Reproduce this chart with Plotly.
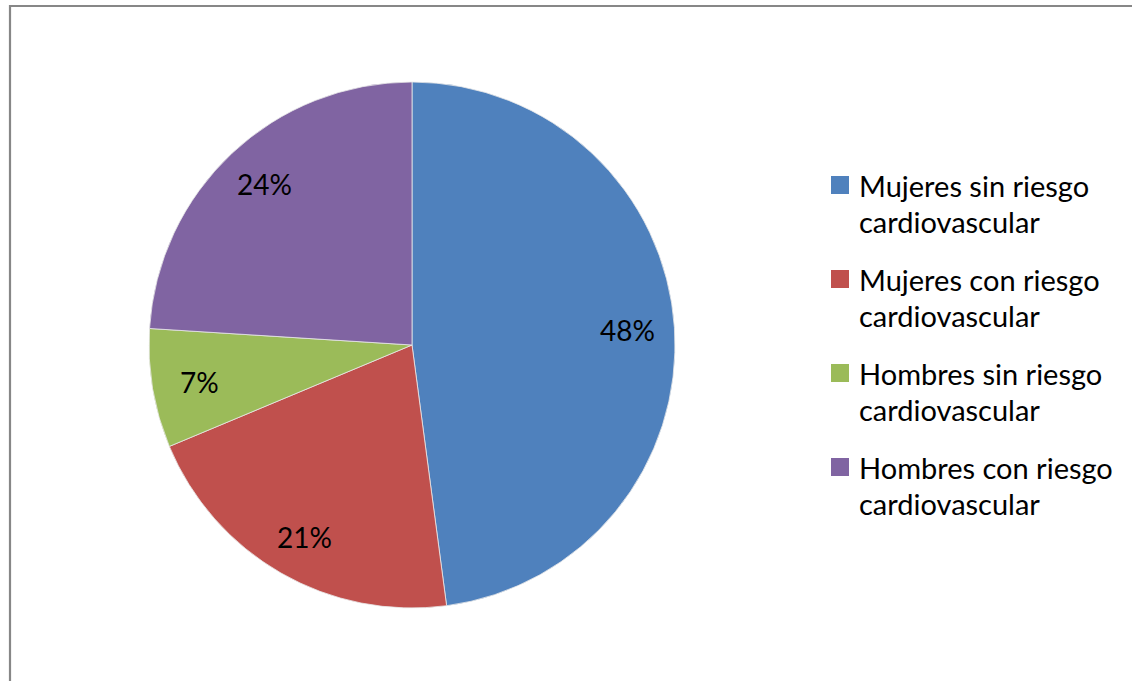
import math
import plotly.graph_objects as go

categories = [
    "Mujeres sin riesgo cardiovascular",
    "Mujeres con riesgo cardiovascular",
    "Hombres sin riesgo cardiovascular",
    "Hombres con riesgo cardiovascular",
]
legend_lines = [
    ["Mujeres sin riesgo", "cardiovascular"],
    ["Mujeres con riesgo", "cardiovascular"],
    ["Hombres sin riesgo", "cardiovascular"],
    ["Hombres con riesgo", "cardiovascular"],
]
values = [47.9, 20.8, 7.3, 24.0]
colors = ["#4F81BD", "#C0504D", "#9BBB59", "#8064A2"]

W, H = 1132, 681
FONT = "Lato"
cx, cy, r = 412, 345, 263  # pie centre/radius in pixels
dom_x = [(cx - r) / W, (cx + r) / W]
dom_y = [1 - (cy + r) / H, 1 - (cy - r) / H]


def px(x):
    return x / W


def py(y):
    return 1 - y / H


fig = go.Figure(
    go.Pie(
        labels=categories,
        values=values,
        sort=False,
        direction="clockwise",
        rotation=0,
        marker=dict(colors=colors, line=dict(color="#E8E8E8", width=0.8)),
        textinfo="none",
        hoverinfo="label+percent",
        domain=dict(x=dom_x, y=dom_y),
        showlegend=False,
    )
)

# percentage labels placed along each slice's bisector
total = sum(values)
cum = 0
annotations = []
for v in values:
    mid = (cum + v / 2) / total * 2 * math.pi
    cum += v
    lx = cx + 0.82 * r * math.sin(mid)
    ly = cy - 0.84 * r * math.cos(mid)
    annotations.append(
        dict(
            x=px(lx), y=py(ly), xref="paper", yref="paper",
            text=f"{round(v / total * 100)}%", showarrow=False,
            font=dict(family=FONT, size=28, color="black"),
            xanchor="center", yanchor="middle",
        )
    )

# legend (square swatch + two text lines per entry)
shapes = []
LEG_X, LEG_Y0, STEP, LINE = 831, 185, 94, 36
for i, (lines, col) in enumerate(zip(legend_lines, colors)):
    yc = LEG_Y0 + i * STEP
    shapes.append(
        dict(
            type="rect", xref="paper", yref="paper",
            x0=px(LEG_X), x1=px(LEG_X + 18), y0=py(yc + 9), y1=py(yc - 9),
            fillcolor=col, line=dict(width=0),
        )
    )
    for j, t in enumerate(lines):
        annotations.append(
            dict(
                x=px(LEG_X + 26), y=py(yc + j * LINE), xref="paper", yref="paper",
                text=t, showarrow=False,
                font=dict(family=FONT, size=29, color="black"),
                xanchor="left", yanchor="middle",
            )
        )

# chart-area border
shapes.append(
    dict(
        type="rect", xref="paper", yref="paper",
        x0=px(10), x1=1.05, y0=-0.05, y1=py(6),
        line=dict(color="#878787", width=2.2),
        fillcolor="rgba(0,0,0,0)", layer="above",
    )
)

fig.update_layout(
    width=W, height=H,
    margin=dict(l=0, r=0, t=0, b=0),
    paper_bgcolor="white",
    plot_bgcolor="white",
    font=dict(family=FONT, size=28, color="black"),
    annotations=annotations,
    shapes=shapes,
)

fig.write_html(
    "out.html",
    config={"displayModeBar": False},
    post_script="document.body.style.margin='0';document.body.style.overflow='hidden';",
)
